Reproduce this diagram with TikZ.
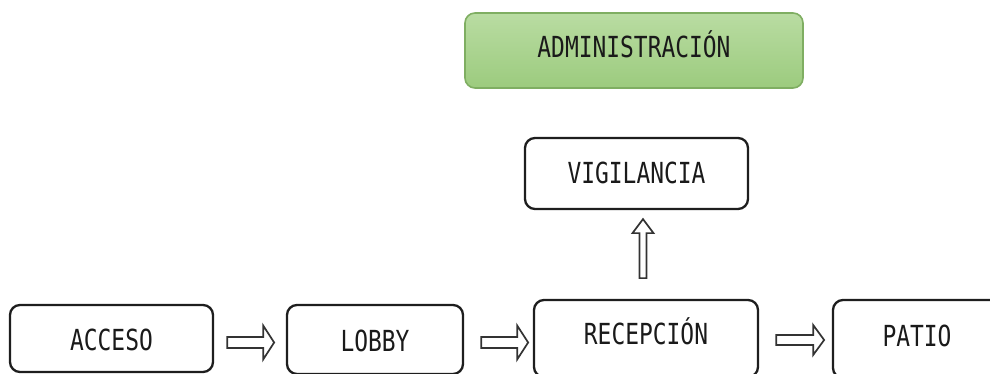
\documentclass[tikz,border=0pt]{standalone}
\usepackage{fontspec}
\setmainfont{DejaVu Sans Mono}[FakeStretch=0.79]
\usetikzlibrary{calc}
\definecolor{boxline}{HTML}{1E1E1E}
\definecolor{txt}{HTML}{1A1A1A}
\definecolor{arrline}{HTML}{333333}
\definecolor{gtop}{HTML}{B9DCA2}
\definecolor{gbot}{HTML}{9CCB7E}
\definecolor{gline}{HTML}{7FAE62}
\tikzset{
  roombox/.style={draw=boxline, line width=2.3pt, rounded corners=10pt, fill=white,
    inner sep=0pt, text height=21pt, text depth=0pt, text=txt,
    font=\fontsize{29}{29}\selectfont},
  adminbox/.style={roombox, draw=gline, line width=1.6pt, top color=gtop, bottom color=gbot},
  hollow/.style={draw=arrline, line width=1.7pt, fill=white, line join=miter}
}
\begin{document}
\begin{tikzpicture}[x=1pt,y=1pt]
\useasboundingbox (0,0) rectangle (990,374);
\clip (0,0) rectangle (990,374);
% boxes (y = 374 - pixel row)
\node[adminbox, minimum width=338pt, minimum height=75pt] (adm) at (634,323.5) {\raisebox{3pt}{ADMINISTRACIÓN}};
\node[roombox, minimum width=223pt, minimum height=71pt] (vig) at (636.5,200.5) {VIGILANCIA};
\node[roombox, minimum width=203pt, minimum height=67pt] (acc) at (111.5,35.5) {\raisebox{-2pt}{ACCESO}};
\node[roombox, minimum width=176pt, minimum height=69pt] (lob) at (375,34.5) {\raisebox{-2pt}{LOBBY}};
\node[roombox, minimum width=224pt, minimum height=77pt] (rec) at (646,35.5) {\raisebox{4pt}{RECEPCIÓN}};
\node[roombox, minimum width=168pt, minimum height=78pt] (pat) at (917,35) {\raisebox{2.5pt}{PATIO}};
% hollow arrows
\draw[hollow] ([shift={(13,-9.5)}]acc.east) -- ++(36,0) -- ++(0,-11.5) -- ++(11,17) -- ++(-11,17) -- ++(0,-11.5) -- ++(-36,0) -- cycle;
\draw[hollow] ([shift={(17,-8.5)}]lob.east) -- ++(36,0) -- ++(0,-11.5) -- ++(11,17) -- ++(-11,17) -- ++(0,-11.5) -- ++(-36,0) -- cycle;
\draw[hollow] ([shift={(17,-6.5)}]rec.east) -- ++(37,0) -- ++(0,-10) -- ++(11,15) -- ++(-11,15) -- ++(0,-10) -- ++(-37,0) -- cycle;
\draw[hollow] ([shift={(6.5,-9)}]vig.south) -- ++(10.5,-14) -- ++(-7,0) -- ++(0,-45) -- ++(-7,0) -- ++(0,45) -- ++(-7,0) -- cycle;
\end{tikzpicture}
\end{document}
